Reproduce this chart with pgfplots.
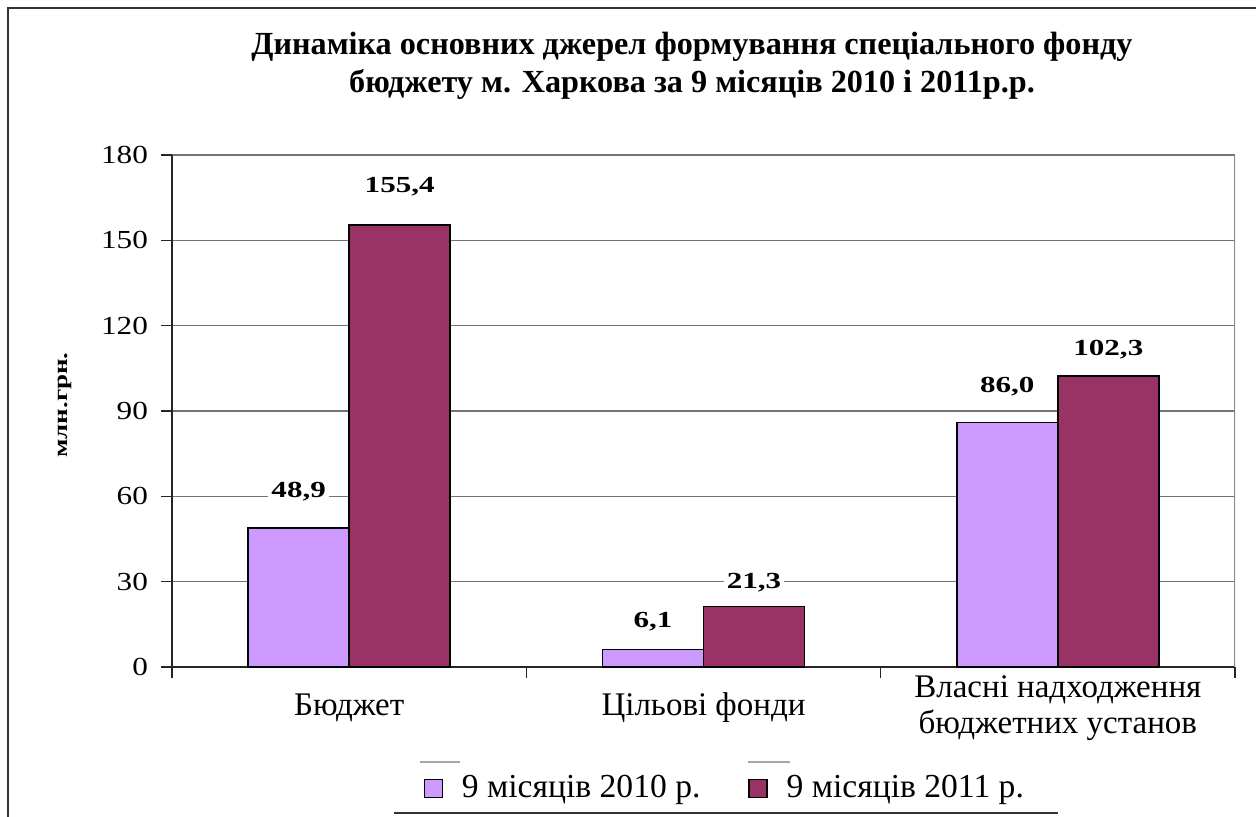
\documentclass[border=0pt]{standalone}
\usepackage{fontspec}
\setmainfont{Liberation Serif}
\newfontfamily\widefont[FakeStretch=1.35]{Liberation Serif}
\newfontfamily\tickfont[FakeStretch=1.2]{Liberation Serif}
\usepackage{pgfplots}
\pgfplotsset{compat=1.18}
\usepackage{pgfplotstable}
\definecolor{lilac}{HTML}{CC99FF}
\definecolor{plum}{HTML}{993366}

\pgfplotstableread{
x y off
0 48.9 18
1 6.1 14
2 86.0 18
}\tA
\pgfplotstableread{
x y off
0 155.4 19
1 21.3 12
2 102.3 13
}\tB

\begin{document}
\begin{tikzpicture}
\useasboundingbox (0,0) rectangle (628pt,408pt);
\draw[line width=1pt, black!80] (4pt,-2pt) -- (4pt,404pt) -- (632pt,404pt);
\node[font=\bfseries\fontsize{16.1}{19}\selectfont, align=center] at (346pt,375pt)
  {Динаміка основних джерел формування спеціального фонду\\бюджету м. Харкова за 9 місяців 2010 і 2011р.р.};
\node[rotate=90, font=\widefont\bfseries\fontsize{10}{12}\selectfont] at (32.5pt,205.5pt) {млн.грн.};
\begin{axis}[
  at={(86pt,74.5pt)}, anchor=south west, scale only axis,
  width=531.5pt, height=256pt,
  xmin=-0.5, xmax=2.5, ymin=0, ymax=180,
  ybar=0pt, bar width=50.5pt,
  axis lines=left,
  axis line style={-, black!85, line width=0.8pt},
  tick align=outside, major tick length=5.5pt,
  tick style={black!85, line width=0.8pt},
  ytick={0,30,...,180},
  ymajorgrids, grid style={black!55, line width=0.6pt},
  xtick={-0.5,0.5,1.5,2.5}, xticklabels={},
  extra x ticks={0,1,2},
  extra x tick labels={Бюджет, Цільові фонди, {Власні надходження\\бюджетних установ}},
  extra x tick style={major tick length=0pt, grid=none},
  xticklabel style={font=\fontsize{16.5}{18}\selectfont, align=center, anchor=center, yshift=-20.5pt},
  yticklabel style={font=\tickfont\fontsize{13}{15}\selectfont, xshift=-3pt},
  /pgf/number format/assume math mode=true,
  visualization depends on={\thisrow{off}\as\off},
  nodes near coords={\pgfmathprintnumber[fixed,fixed zerofill,precision=1,use comma,assume math mode=true]{\pgfplotspointmeta}},
  every node near coord/.append style={font=\widefont\bfseries\fontsize{11.5}{13}\selectfont, fill=white, inner sep=1.5pt, anchor=center, yshift=\off pt, text=black},
  legend style={at={(0.521,-0.235)}, anchor=center, draw=none, fill=none, legend columns=2,
    font=\fontsize{16.8}{19}\selectfont,
    /tikz/every odd column/.append style={column sep=7.5pt},
    /tikz/every even column/.append style={column sep=22pt}},
  legend image code/.code={\draw[#1, draw=black, line width=0.6pt] (0pt,-5pt) rectangle (9pt,4pt);},
]
\addplot[fill=lilac, draw=black, line width=0.7pt] table[x=x,y=y] {\tA};
\addplot[fill=plum, draw=black, line width=0.7pt] table[x=x,y=y] {\tB};
\legend{9 місяців 2010 р., 9 місяців 2011 р.}
\draw[black!45, line width=0.6pt] (rel axis cs:1,0) -- (rel axis cs:1,1);
\end{axis}
\draw[black!80, line width=0.7pt] (197pt,1.5pt) -- (529pt,1.5pt);
\draw[black!35, line width=0.6pt] (210pt,27pt) -- (230pt,27pt);
\draw[black!35, line width=0.6pt] (374pt,27pt) -- (395pt,27pt);
\end{tikzpicture}
\end{document}
